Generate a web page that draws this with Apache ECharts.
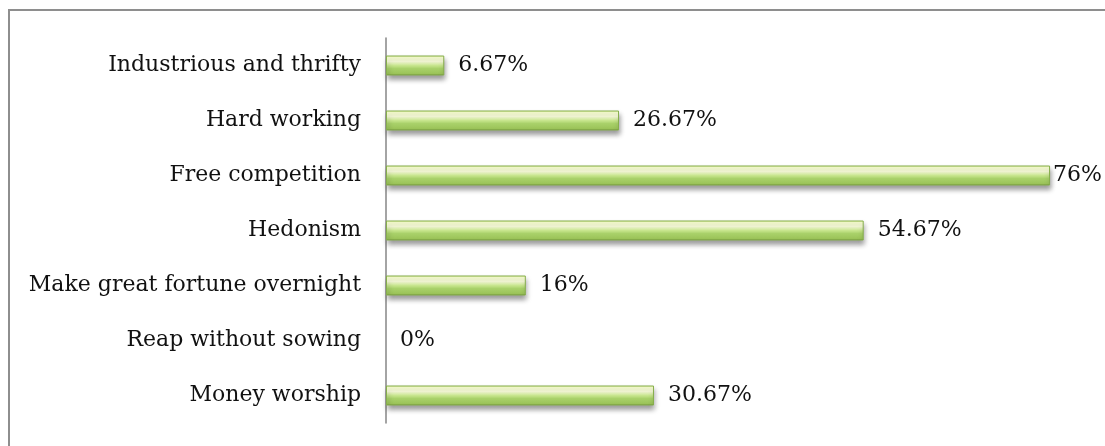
<!DOCTYPE html>
<html>
<head>
<meta charset="utf-8">
<script src="https://cdn.jsdelivr.net/npm/echarts@6/dist/echarts.min.js"></script>
<style>
  html, body { margin: 0; padding: 0; background: #fff; }
  #chart { width: 1105px; height: 446px; }
</style>
</head>
<body>
<div id="chart"></div>
<script>
// Survey responses, listed bottom to top as drawn on the category axis
const categories = [
  'Money worship',
  'Reap without sowing',
  'Make great fortune overnight',
  'Hedonism',
  'Free competition',
  'Hard working',
  'Industrious and thrifty'
];
const shares = [30.67, 0, 16, 54.67, 76, 26.67, 6.67];
const shareLabels = ['30.67%', '0%', '16%', '54.67%', '76%', '26.67%', '6.67%'];

const FONT = 'DejaVu Serif';

// Bevelled look: light rim on top, pale highlight, green body, darker lower edge
const barFill = new echarts.graphic.LinearGradient(0, 0, 0, 1, [
  { offset: 0, color: '#e2f29c' },
  { offset: 0.1, color: '#f8ffd0' },
  { offset: 0.3, color: '#fbffdc' },
  { offset: 0.5, color: '#c8e68e' },
  { offset: 0.65, color: '#a9d16a' },
  { offset: 0.9, color: '#9cc45a' },
  { offset: 1, color: '#6f8f38' }
]);

const chart = echarts.init(document.getElementById('chart'), null, { renderer: 'canvas' });

chart.setOption({
  animation: false,
  backgroundColor: '#ffffff',
  graphic: [{
    type: 'rect',
    shape: { x: 9, y: 10, width: 1110, height: 450 },
    style: { fill: 'none', stroke: '#8e8e8e', lineWidth: 2 },
    silent: true
  }],
  grid: { left: 386, right: 20, top: 38, bottom: 23 },
  xAxis: {
    type: 'value',
    min: 0,
    max: 80,
    show: false
  },
  yAxis: {
    type: 'category',
    data: categories,
    axisLine: { show: true, lineStyle: { color: '#868686', width: 1.5 } },
    axisTick: { show: false },
    axisLabel: {
      fontFamily: FONT,
      fontSize: 22,
      color: '#111',
      margin: 25
    }
  },
  series: [{
    type: 'bar',
    barWidth: 20,
    data: shares.map(v => ({
      value: v,
      // a zero-length bar leaves no visible sliver, only its label
      itemStyle: v === 0 ? { borderWidth: 0, shadowBlur: 0, shadowColor: 'transparent' } : undefined,
      label: { distance: v > 70 ? 3 : 14 }
    })),
    itemStyle: {
      color: barFill,
      borderColor: '#86ae4c',
      borderWidth: 1,
      shadowColor: 'rgba(0,0,0,0.4)',
      shadowBlur: 5,
      shadowOffsetY: 4,
      shadowOffsetX: 1
    },
    label: {
      show: true,
      position: 'right',
      fontFamily: FONT,
      fontSize: 22,
      color: '#111',
      formatter: p => shareLabels[p.dataIndex]
    }
  }]
});
</script>
</body>
</html>
